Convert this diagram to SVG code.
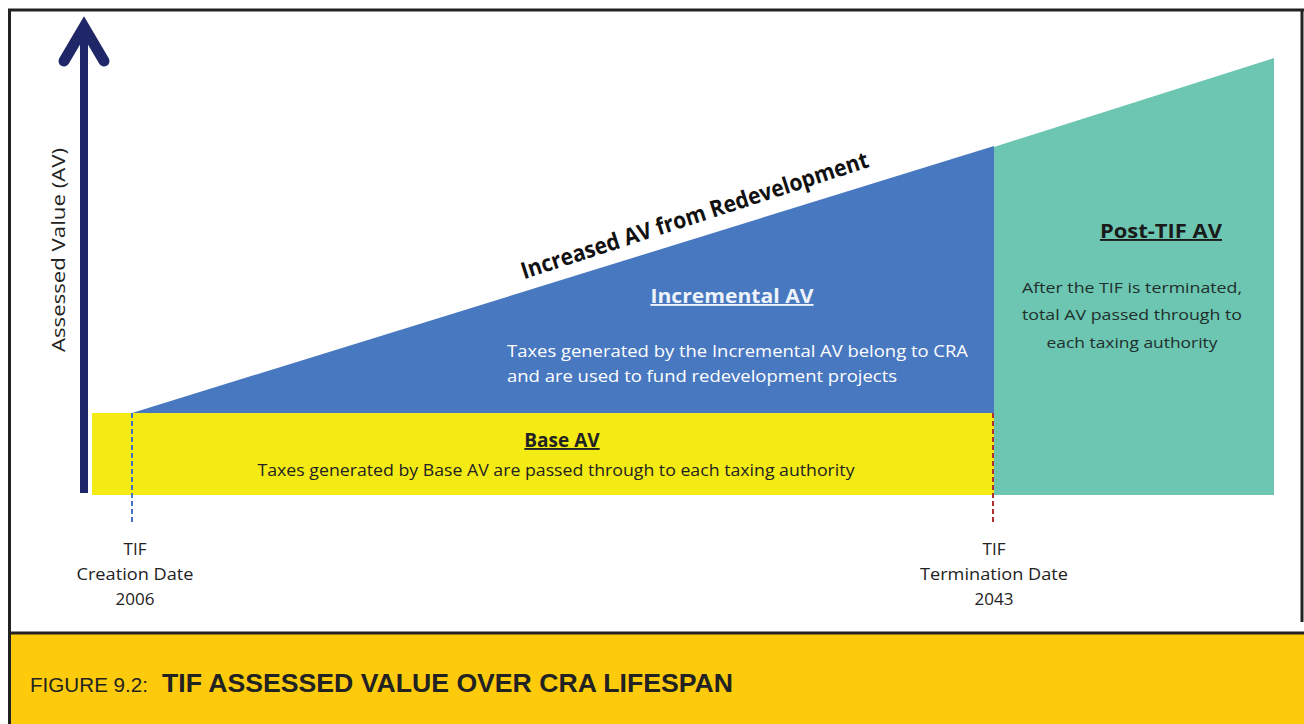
<svg xmlns="http://www.w3.org/2000/svg" width="1304" height="724" viewBox="0 0 1304 724">
<defs>
<style>
.lbl{font-family:"Open Sans","Noto Sans","Liberation Sans",sans-serif;fill:#222}
.hd{font-family:"Open Sans","Noto Sans","Liberation Sans",sans-serif;font-weight:bold;text-decoration:underline}
.cap{font-family:"Liberation Sans",Arial,sans-serif;fill:#222}
</style>
</defs>
<rect x="0" y="0" width="1304" height="724" fill="#fff"/>

<!-- caption band -->
<g id="caption">
<rect x="10" y="633" width="1294" height="91" fill="#FDCB0B"/>
<line x1="9" y1="633" x2="1304" y2="633" stroke="#222" stroke-width="3"/>
<text class="cap" x="30" y="692" font-size="21" textLength="118" lengthAdjust="spacingAndGlyphs">FIGURE 9.2:</text>
<text class="cap" x="162" y="692" font-size="25" font-weight="bold" textLength="571" lengthAdjust="spacingAndGlyphs">TIF ASSESSED VALUE OVER CRA LIFESPAN</text>
</g>

<!-- frame -->
<g id="frame">
<line x1="8" y1="10" x2="1304" y2="10" stroke="#222" stroke-width="3"/>
<line x1="9.5" y1="9" x2="9.5" y2="724" stroke="#222" stroke-width="3"/>
<line x1="1302" y1="9" x2="1302" y2="622" stroke="#222" stroke-width="3"/>
</g>

<!-- base AV -->
<g id="base-av">
<rect x="92" y="413" width="902" height="82" fill="#F4EB14"/>
<text class="hd" x="562" y="447" font-size="19" text-anchor="middle" fill="#222">Base AV</text>
<text class="lbl" x="556" y="476" font-size="15.5" text-anchor="middle" textLength="597" lengthAdjust="spacingAndGlyphs">Taxes generated by Base AV are passed through to each taxing authority</text>
</g>

<!-- incremental AV -->
<g id="incremental-av">
<polygon points="132,413 994,146 994,413" fill="#4878C0"/>
<text class="hd" x="732" y="303" font-size="19" text-anchor="middle" fill="#EEF3FA" textLength="163" lengthAdjust="spacingAndGlyphs">Incremental AV</text>
<text class="lbl" x="507" y="357" font-size="17" style="fill:#fff" textLength="461" lengthAdjust="spacingAndGlyphs">Taxes generated by the Incremental AV belong to CRA</text>
<text class="lbl" x="507" y="382" font-size="17" style="fill:#fff" textLength="390" lengthAdjust="spacingAndGlyphs">and are used to fund redevelopment projects</text>
</g>

<!-- post-TIF AV -->
<g id="post-tif-av">
<polygon points="994,147 1274,58 1274,495 994,495" fill="#6CC6B1"/>
<text class="hd" x="1161" y="238" font-size="19" text-anchor="middle" fill="#1a1a1a" textLength="122" lengthAdjust="spacingAndGlyphs">Post-TIF AV</text>
<text class="lbl" x="1132" y="293" font-size="15" text-anchor="middle" style="fill:#1f2f2c" textLength="220" lengthAdjust="spacingAndGlyphs">After the TIF is terminated,</text>
<text class="lbl" x="1132" y="320" font-size="15" text-anchor="middle" style="fill:#1f2f2c" textLength="220" lengthAdjust="spacingAndGlyphs">total AV passed through to</text>
<text class="lbl" x="1132" y="348" font-size="15" text-anchor="middle" style="fill:#1f2f2c" textLength="171" lengthAdjust="spacingAndGlyphs">each taxing authority</text>
</g>

<!-- slope label -->
<g id="increase-label">
<text x="697" y="223" font-family="'Open Sans','Noto Sans',sans-serif" font-weight="bold" font-size="23" fill="#111" text-anchor="middle" transform="rotate(-18 697 223)" textLength="364" lengthAdjust="spacingAndGlyphs">Increased AV from Redevelopment</text>
</g>

<!-- axis -->
<g id="axis">
<line x1="84" y1="493" x2="84" y2="32" stroke="#1F2769" stroke-width="8"/>
<polyline points="64,61 84,27 104,61" fill="none" stroke="#1F2769" stroke-width="11" stroke-linejoin="miter" stroke-linecap="round"/>
<text class="lbl" x="0" y="0" font-size="18" text-anchor="middle" transform="translate(65 250) rotate(-90)" textLength="204" lengthAdjust="spacingAndGlyphs">Assessed Value (AV)</text>
</g>

<!-- date markers -->
<g id="connectors">
<line x1="132" y1="413" x2="132" y2="523" stroke="#4472C4" stroke-width="2" stroke-dasharray="5,3"/>
<line x1="993" y1="413" x2="993" y2="523" stroke="#B03030" stroke-width="2" stroke-dasharray="5,3"/>
</g>

<g id="creation-date">
<text class="lbl" x="135" y="555" font-size="17" text-anchor="middle">TIF</text>
<text class="lbl" x="135" y="580" font-size="17" text-anchor="middle" textLength="117" lengthAdjust="spacingAndGlyphs">Creation Date</text>
<text class="lbl" x="135" y="605" font-size="17" text-anchor="middle">2006</text>
</g>
<g id="termination-date">
<text class="lbl" x="994" y="555" font-size="17" text-anchor="middle">TIF</text>
<text class="lbl" x="994" y="580" font-size="17" text-anchor="middle" textLength="148" lengthAdjust="spacingAndGlyphs">Termination Date</text>
<text class="lbl" x="994" y="605" font-size="17" text-anchor="middle">2043</text>
</g>
</svg>
